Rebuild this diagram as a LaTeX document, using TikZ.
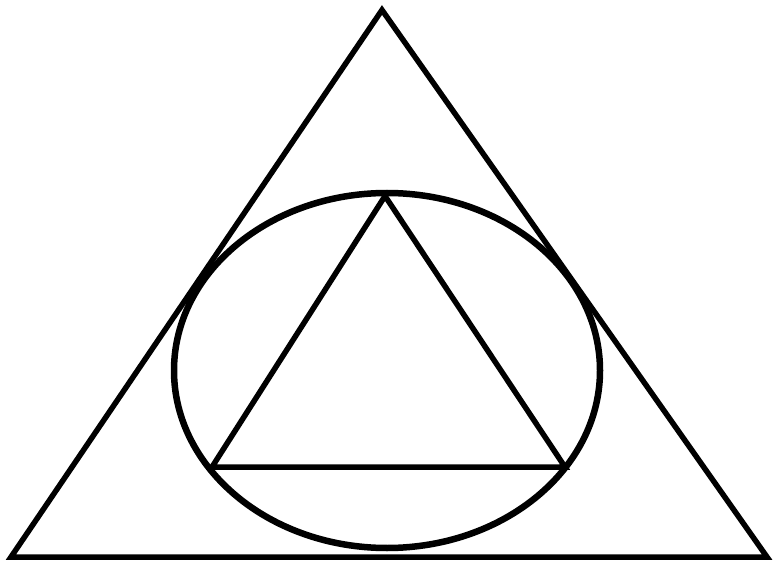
\documentclass[tikz,border=0pt]{standalone}
\begin{document}
\begin{tikzpicture}[x=1pt,y=-1pt,
  stroke/.style={draw=black,line width=5.5pt,line join=miter}]
\useasboundingbox (0,0) rectangle (779,577);
% outer triangle
\coordinate (A) at (382,10);
\coordinate (B) at (11,557);
\coordinate (C) at (767,557);
\draw[stroke] (A) -- (B) -- (C) -- cycle;
% ellipse
\coordinate (O) at (387,370.5);
\draw[stroke,line width=6.5pt] (O) ellipse [x radius=213, y radius=177.5];
% inner triangle
\coordinate (P) at (385,196);
\coordinate (Q) at (212,467);
\coordinate (R) at (565,467);
\draw[stroke] (P) -- (Q) -- (R) -- cycle;
\end{tikzpicture}
\end{document}
